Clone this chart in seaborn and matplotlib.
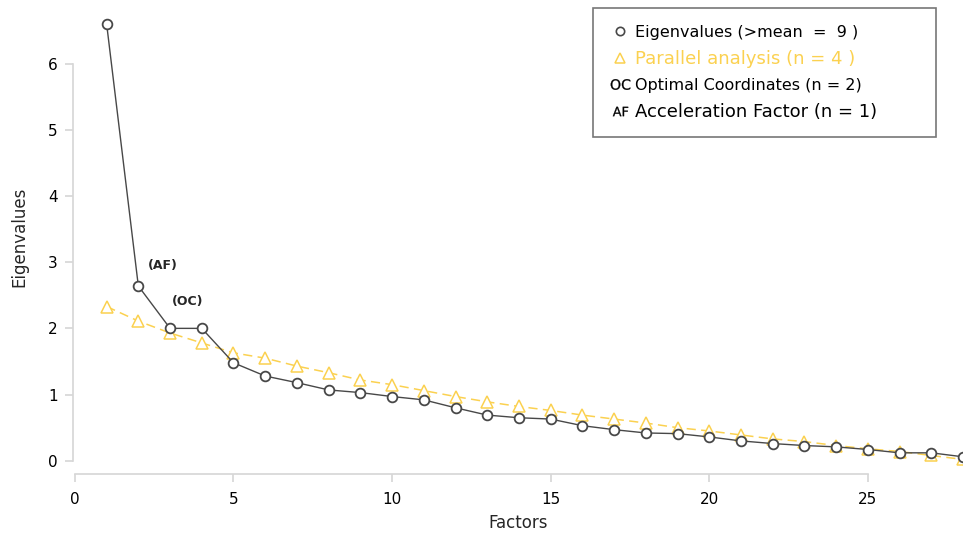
import numpy as np
import seaborn as sns
import matplotlib.pyplot as plt
from matplotlib.lines import Line2D

# Scree plot data
factors = list(range(1, 29))
eigenvalues = [6.60, 2.64, 2.00, 2.00, 1.48, 1.28, 1.18, 1.07, 1.03, 0.97,
               0.92, 0.80, 0.69, 0.65, 0.63, 0.53, 0.47, 0.42, 0.41, 0.36,
               0.30, 0.26, 0.23, 0.21, 0.17, 0.12, 0.12, 0.06]
parallel = [2.33, 2.11, 1.93, 1.78, 1.63, 1.55, 1.43, 1.33, 1.22, 1.15,
            1.06, 0.97, 0.89, 0.82, 0.76, 0.69, 0.63, 0.57, 0.50, 0.45,
            0.39, 0.33, 0.29, 0.23, 0.18, 0.14, 0.08, 0.02]
x_ticks = [0, 5, 10, 15, 20, 25]
y_ticks = [0, 1, 2, 3, 4, 5, 6]
legend_labels = ["Eigenvalues (>mean  =  9 )", "Parallel analysis (n = 4 )",
                 "Optimal Coordinates (n = 2)", "Acceleration Factor (n = 1)"]

sns.set_style("white")
plt.rcParams['font.family'] = ['DejaVu Sans']

grey = "#484848"
yellow = "#fbd150"

fig = plt.figure(figsize=(9.63, 5.37), dpi=100)
ax = fig.add_axes([0.0758, 0.1173, 0.9242, 0.8827])

sns.lineplot(x=factors, y=parallel, ax=ax, color=yellow, linestyle=(0, (6, 3.5)),
             linewidth=1.1, marker='^', markersize=8, markerfacecolor='white',
             markeredgecolor=yellow, markeredgewidth=1.1, zorder=2)
sns.lineplot(x=factors, y=eigenvalues, ax=ax, color=grey, linewidth=1.0,
             marker='o', markersize=7, markerfacecolor='white',
             markeredgecolor=grey, markeredgewidth=1.3, zorder=3)

ax.text(2.3, 2.95, "(AF)", fontsize=9, fontweight='bold', ha='left', va='center')
ax.text(3.05, 2.40, "(OC)", fontsize=9, fontweight='bold', ha='left', va='center')

ax.set_xlim(-0.06, 28.0)
ax.set_ylim(-0.2, 6.96)
ax.set_xticks(x_ticks)
ax.set_yticks(y_ticks)
for s in ['top', 'right']:
    ax.spines[s].set_visible(False)
ax.spines['left'].set_bounds(0, 6)
ax.spines['bottom'].set_bounds(0, 25)
for s in ['left', 'bottom']:
    ax.spines[s].set_color('#d6d6d6')
    ax.spines[s].set_linewidth(1.2)
ax.tick_params(axis='both', which='both', direction='out', length=6, width=1.2,
               color='#d6d6d6', labelsize=11, labelcolor='black', left=True, bottom=True)
ax.tick_params(axis='y', pad=5)
ax.tick_params(axis='x', pad=7)
ax.set_xlabel("Factors", fontsize=12, labelpad=5)
ax.set_ylabel("Eigenvalues", fontsize=12, labelpad=14)

handles = [
    Line2D([], [], linestyle='none', marker='o', markersize=6, markerfacecolor='white',
           markeredgecolor=grey, markeredgewidth=1.2),
    Line2D([], [], linestyle='none', marker='^', markersize=7, markerfacecolor='white',
           markeredgecolor=yellow, markeredgewidth=1.1),
    Line2D([], [], linestyle='none', marker=r'$\mathrm{OC}$', markersize=14, color='black',
           markeredgewidth=0.2),
    Line2D([], [], linestyle='none', marker=r'$\mathrm{AF}$', markersize=11, color='black',
           markeredgewidth=0.2),
]
leg = ax.legend(handles, legend_labels, loc='upper left',
                bbox_to_anchor=(0.5843, 0.983 - 0.275, 0.3854, 0.275), mode='expand',
                frameon=True, fancybox=False, edgecolor='#555555', fontsize=12,
                handlelength=1.2, handletextpad=0.3, labelspacing=0.6,
                borderpad=1.0, borderaxespad=0)
leg.get_frame().set_linewidth(1.2)
sizes = [11.5, 13, 11.5, 13]
colors = ['black', yellow, 'black', 'black']
for t, c, sz in zip(leg.get_texts(), colors, sizes):
    t.set_color(c)
    t.set_fontsize(sz)

fig.savefig('out.png', dpi=100)
